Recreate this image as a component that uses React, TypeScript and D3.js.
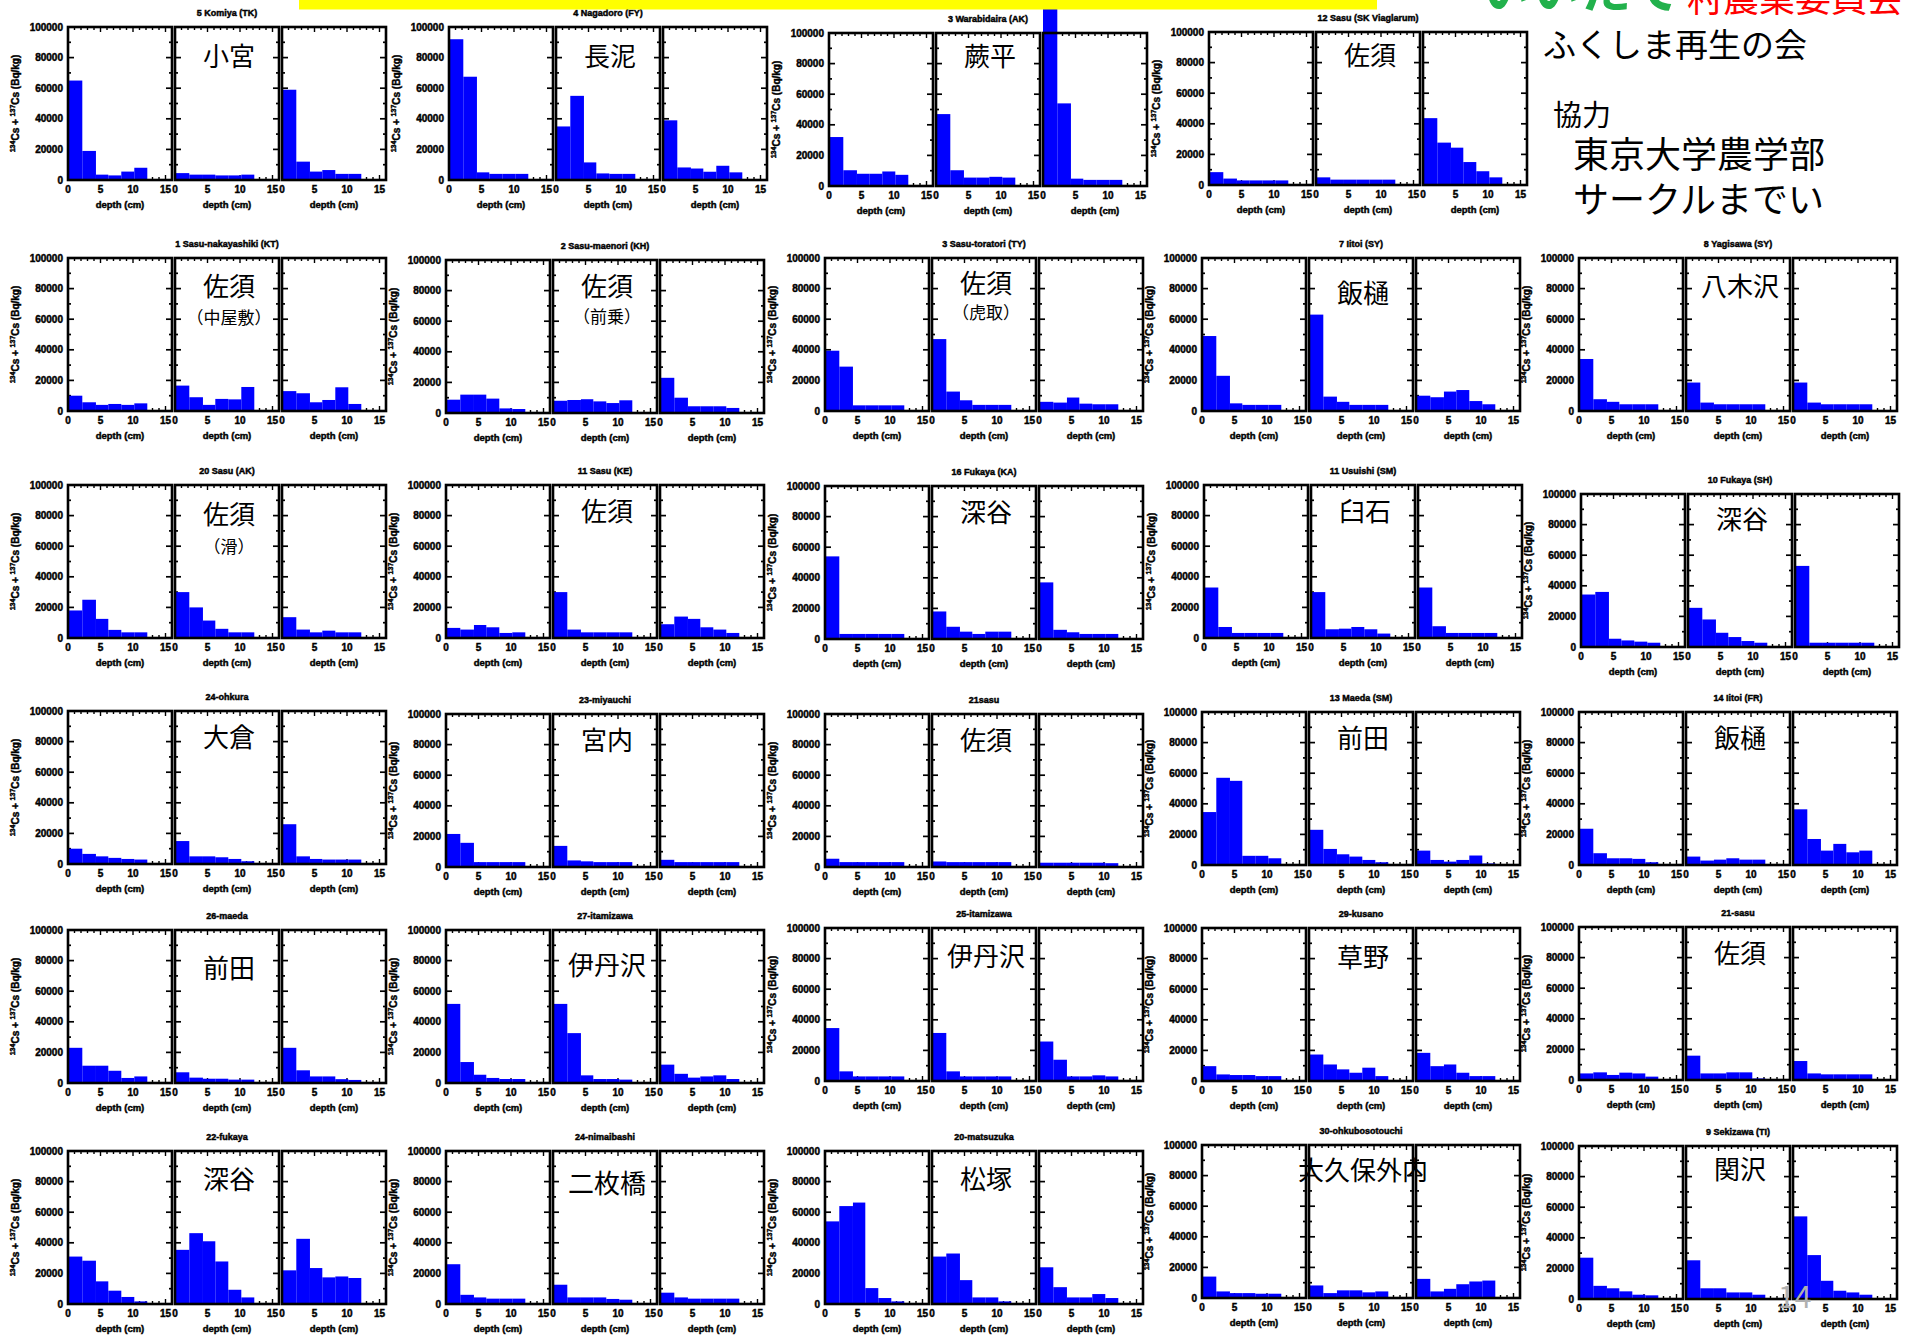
import React from "react";
import * as d3 from "d3";

// ---------- data ----------
const DEPTH_EDGES = [0, 2.2, 4.3, 6.2, 8.2, 10.2, 12.2];
const X_TICKS = [0, 5, 10, 15];
const Y_TICKS = [0, 20000, 40000, 60000, 80000, 100000];

const SITE_TITLES = [
  "5 Komiya (TK)", "4 Nagadoro (FY)", "3 Warabidaira (AK)", "12 Sasu (SK Viaglarum)",
  "1 Sasu-nakayashiki (KT)", "2 Sasu-maenori (KH)", "3 Sasu-toratori (TY)", "7 Iitoi (SY)", "8 Yagisawa (SY)",
  "20 Sasu (AK)", "11 Sasu (KE)", "16 Fukaya (KA)", "11 Usuishi (SM)", "10 Fukaya (SH)",
  "24-ohkura", "23-miyauchi", "21sasu", "13 Maeda (SM)", "14 Iitoi (FR)",
  "26-maeda", "27-itamizawa", "25-itamizawa", "29-kusano", "21-sasu",
  "22-fukaya", "24-nimaibashi", "20-matsuzuka", "30-ohkubosotouchi", "9 Sekizawa (TI)",
];
const SITE_NAMES = [
  "小宮", "長泥", "蕨平", "佐須",
  "佐須", "佐須", "佐須", "飯樋", "八木沢",
  "佐須", "佐須", "深谷", "臼石", "深谷",
  "大倉", "宮内", "佐須", "前田", "飯樋",
  "前田", "伊丹沢", "伊丹沢", "草野", "佐須",
  "深谷", "二枚橋", "松塚", "大久保外内", "関沢",
];
const SITE_SUBNAMES = [
  "", "", "", "",
  "（中屋敷）", "（前乗）", "（虎取）", "", "",
  "（滑）", "", "", "", "",
  "", "", "", "", "",
  "", "", "", "", "",
  "", "", "", "", "",
];

// 134Cs + 137Cs (kBq/kg) per depth layer, three cores per site
const ROW1_VALUES = [
  [[65, 19, 3.5, 3, 5.5, 8], [4.5, 3.5, 3.5, 3, 3, 3.5], [59, 12, 5.5, 6.5, 4, 4]],
  [[92, 67.5, 5, 4, 4, 4], [35, 55, 11.5, 4.3, 4, 4], [39, 8.2, 7.5, 5.4, 9.3, 5]],
  [[32, 10.3, 8, 8, 9.5, 7.3], [47, 10.3, 5.5, 5.5, 6, 5.5], [118, 54, 4.8, 4, 4, 4]],
  [[8.4, 4.2, 3, 3, 3, 3], [5, 3.5, 3.5, 3.5, 3.5, 3.5], [43.7, 27.7, 24.4, 15, 9, 5]],
];
const ROW2_VALUES = [
  [[10, 5.7, 4, 4.6, 4, 5], [16.6, 9, 4, 7.9, 7.6, 15.7], [13, 11.6, 5.7, 7.2, 15.5, 4.6]],
  [[8.7, 12, 12, 9.4, 3, 2.6], [8, 8.5, 9, 7.6, 6.5, 8.3], [23, 10, 4.4, 4.4, 4.4, 3.3]],
  [[39.4, 29, 3.7, 3.7, 3.7, 3.7], [47, 12.7, 7, 4, 4, 4], [6, 5.5, 8.8, 4.8, 4.4, 4.4]],
  [[49, 23, 5, 4, 4, 4], [63, 9.4, 6, 4, 4, 4], [10, 9, 12.7, 13.7, 6.5, 4.4]],
  [[34, 7.7, 6, 4.4, 4.4, 4.4], [18.6, 5.5, 4.4, 4.4, 4.4, 4.4], [18.6, 5.5, 4.4, 4.4, 4.4, 4.4]],
];
const ROW3_VALUES = [
  [[18, 25, 12.5, 5.3, 3.7, 3.7], [30, 20, 11.4, 6, 3.7, 3.7], [13.6, 5.5, 3.7, 4.8, 3.7, 3.7]],
  [[6.6, 5.5, 8.5, 7, 3.3, 3.7], [30, 5.5, 3.7, 3.7, 3.7, 3.7], [9, 14, 12.5, 7, 5.5, 3.3]],
  [[54, 3.3, 3.3, 3.3, 3.3, 3.3], [18, 8, 4.8, 3.3, 4.8, 4.8], [37, 6, 4.4, 3.3, 3.3, 3.3]],
  [[33, 7.2, 3.3, 3.3, 3.3, 3.3], [30, 5.7, 6.1, 7.2, 5.7, 2.9], [33, 7.7, 3.3, 3.3, 3.3, 3.3]],
  [[34.3, 36, 5.4, 4.3, 3.5, 2.8], [25.6, 18, 9.3, 6.5, 3.9, 2.8], [53, 2.8, 2.8, 2.8, 2.8, 2.8]],
];
const ROW4_VALUES = [
  [[10, 6.6, 5, 4, 3.3, 2.9], [15, 5, 5, 4.4, 3.3, 1.8], [26, 5, 3.3, 2.9, 2.9, 2.9]],
  [[21.6, 15.8, 3.2, 3.2, 3.2, 3.2], [13.8, 4.3, 3.7, 3.2, 3.2, 3.2], [4.7, 3.2, 3.2, 3.2, 3.2, 3.2]],
  [[5.4, 3.2, 3.2, 3.2, 3.2, 3.2], [3.6, 3.2, 3.2, 3.2, 3.2, 3.2], [2.8, 2.8, 2.8, 2.8, 2.8, 2.5]],
  [[34.6, 57, 55, 6, 6, 4.4], [23, 10.5, 7, 5.5, 3.3, 1.8], [9.4, 3.3, 2.2, 3.3, 6.2, 1]],
  [[23.7, 7.7, 4.4, 4.4, 4, 1.8], [5.5, 2.9, 3.5, 4.4, 3.5, 3.5], [36.4, 17, 9.4, 13.8, 8.3, 9.4]],
];
const ROW5_VALUES = [
  [[23, 11.3, 11.3, 8, 3.3, 4.3], [7, 3.5, 2.8, 2.8, 2.2, 2.2], [23, 8.3, 4.3, 4.3, 2.5, 2]],
  [[51.7, 13.7, 5.4, 3.3, 2.6, 2.6], [51.7, 32.6, 5, 2.6, 2.6, 2.2], [12, 6, 3.5, 4.3, 5, 2.6]],
  [[34.6, 6.3, 3, 3, 3, 3], [31.4, 6.3, 3, 3, 3, 3], [25.8, 13.9, 3, 3, 3.7, 3]],
  [[9.7, 4.3, 3.9, 3.9, 3.2, 3.2], [17.3, 10.8, 7.6, 5.4, 8.7, 3.2], [18.4, 9.7, 10.8, 5.4, 3.2, 3.2]],
  [[4.3, 5, 3.3, 4.8, 4.3, 2.2], [15.9, 4.3, 4.3, 5, 5, 1], [12.4, 4.3, 3.7, 3.7, 3.7, 3.7]],
];
const ROW6_VALUES = [
  [[31, 28.3, 14.8, 8.7, 4.6, 1.7], [35.4, 46.3, 41, 27.8, 9.3, 4.3], [22, 42.6, 23.5, 17.4, 18, 17]],
  [[26, 6, 4.3, 3.5, 3.5, 3.5], [12.6, 4.3, 4.3, 4.3, 3.3, 2.8], [7.4, 4.3, 3.5, 3.5, 3.5, 3.5]],
  [[54, 64, 66.3, 10.4, 3.9, 1.7], [31, 33, 15.6, 4.3, 4.3, 1.7], [24, 11, 4.3, 4.3, 6.5, 3.9]],
  [[14, 4.3, 3.2, 3.2, 2.8, 2.8], [8.2, 3.2, 5, 5, 3.7, 4.3], [12.5, 4.3, 6, 9, 10.8, 11.4]],
  [[27, 8.6, 7, 5, 2.8, 2.4], [25.3, 7, 7, 4.3, 4.3, 2.8], [54, 28.7, 11.9, 5.4, 4.3, 2.8]],
];
const VALUES = [...ROW1_VALUES, ...ROW2_VALUES, ...ROW3_VALUES, ...ROW4_VALUES, ...ROW5_VALUES, ...ROW6_VALUES];

// ---------- layout ----------
const GROUP_X = [
  68, 449, 829, 1209,
  68, 446, 825, 1202, 1579,
  68, 446, 825, 1204, 1581,
  68, 446, 825, 1202, 1579,
  68, 446, 825, 1202, 1579,
  68, 446, 825, 1202, 1579,
];
const GROUP_TOP = [
  27, 27, 33, 32,
  258, 260, 258, 258, 258,
  485, 485, 486, 485, 494,
  711, 714, 714, 712, 712,
  930, 930, 928, 928, 927,
  1151, 1151, 1151, 1145, 1146,
];
const LABEL_DY = [
  30, 30, 24, 24,
  29, 27, 26, 36, 29,
  30, 27, 27, 27, 26,
  27, 27, 27, 27, 27,
  39, 36, 29, 30, 27,
  29, 33, 29, 26, 24,
];
const SUB_DY = [0, 0, 0, 0, 60, 57, 55, 0, 0, 62];

const PANEL_W = 104;
const PANEL_GAP = 3;
const FRAME_H = 153;
const FONT = "'Liberation Sans', Arial, Helvetica, sans-serif";
const JP = "'Noto Sans CJK JP', 'Noto Sans CJK SC', sans-serif";
const BLUE = "#0000ff";
const HEAVY = { stroke: "#000", strokeWidth: 0.45 };

function Group({ idx }: { idx: number }) {
  const x0 = GROUP_X[idx];
  const top = GROUP_TOP[idx];
  const bottom = top + FRAME_H;
  const values = VALUES[idx];
  const y = d3.scaleLinear().domain([0, 100000]).range([bottom, top]);
  const groupW = 3 * PANEL_W + 2 * PANEL_GAP;
  const cx = x0 + groupW / 2;
  const minorX = d3.range(1, 16);
  const minorY = d3.range(10000, 100000, 10000);

  return (
    <g>
      <text x={cx} y={top - 11} textAnchor="middle" fontFamily={FONT} fontWeight="bold" fontSize={9} {...HEAVY}>
        {SITE_TITLES[idx]}
      </text>
      <text
        transform={`translate(${x0 - 49},${(top + bottom) / 2}) rotate(-90)`}
        textAnchor="middle"
        fontFamily={FONT}
        fontWeight="bold"
        fontSize={10}
        {...HEAVY}
      >
        <tspan fontSize={7} dy={-4}>134</tspan>
        <tspan dy={4}>Cs + </tspan>
        <tspan fontSize={7} dy={-4}>137</tspan>
        <tspan dy={4}>Cs (Bq/kg)</tspan>
      </text>
      {Y_TICKS.map((t) => (
        <text key={t} x={x0 - 5} y={y(t)} dy="0.35em" textAnchor="end" fontFamily={FONT} fontWeight="bold" fontSize={10} {...HEAVY}>
          {t}
        </text>
      ))}
      {values.map((panel, p) => {
        const pl = x0 + p * (PANEL_W + PANEL_GAP);
        const x = d3.scaleLinear().domain([0, 16]).range([pl, pl + PANEL_W]);
        return (
          <g key={p}>
            {minorX.map((t) => {
              const len = t % 5 === 0 ? 5 : 3;
              return (
                <g key={t} stroke="#000" strokeWidth={1.4}>
                  <line x1={x(t)} x2={x(t)} y1={top} y2={top + len} />
                  <line x1={x(t)} x2={x(t)} y1={bottom} y2={bottom - len} />
                </g>
              );
            })}
            {minorY.map((v) => {
              const len = v % 20000 === 0 ? 6 : 3;
              return (
                <g key={v} stroke="#000" strokeWidth={1.7}>
                  <line x1={pl} x2={pl + len} y1={y(v)} y2={y(v)} />
                  <line x1={pl + PANEL_W} x2={pl + PANEL_W - len} y1={y(v)} y2={y(v)} />
                </g>
              );
            })}
            {panel.map((v, i) => {
              const xa = x(DEPTH_EDGES[i]);
              const xb = x(DEPTH_EDGES[i + 1]);
              const yv = y(v * 1000);
              return <rect key={i} x={xa} y={yv} width={xb - xa} height={bottom - yv} fill={BLUE} />;
            })}
            <rect x={pl} y={top} width={PANEL_W} height={FRAME_H} fill="none" stroke="#000" strokeWidth={2.6} />
            {X_TICKS.map((t) => (
              <text key={t} x={x(t)} y={bottom + 13} textAnchor="middle" fontFamily={FONT} fontWeight="bold" fontSize={10} {...HEAVY}>
                {t}
              </text>
            ))}
            <text x={pl + PANEL_W / 2} y={bottom + 28} textAnchor="middle" fontFamily={FONT} fontWeight="bold" fontSize={9.5} {...HEAVY}>
              depth (cm)
            </text>
          </g>
        );
      })}
      <text x={cx + 2} y={top + LABEL_DY[idx] + 9} textAnchor="middle" fontFamily={JP} fontSize={26} fill="#000">
        {SITE_NAMES[idx]}
      </text>
      {SITE_SUBNAMES[idx] ? (
        <text x={cx + 2} y={top + (SUB_DY[idx] || 58) + 6} textAnchor="middle" fontFamily={JP} fontSize={17} fill="#000">
          {SITE_SUBNAMES[idx]}
        </text>
      ) : null}
    </g>
  );
}

export default function App() {
  return (
    <svg
      width={1907}
      height={1335}
      viewBox="0 0 1907 1335"
      style={{ position: "absolute", left: 0, top: 0, background: "#fff" }}
    >
      <rect x={0} y={0} width={1907} height={1335} fill="#fff" />
      {VALUES.map((_, i) => (
        <Group key={i} idx={i} />
      ))}
      <rect x={299} y={0} width={1078} height={9.5} fill="#ffff00" />
      <text x={1481} y={8} fontFamily={JP} fontWeight="bold" fontSize={50} fill="#22b14c">
        いいたて
      </text>
      <text x={1687} y={12} fontFamily={JP} fontSize={36} fill="#ff0000">
        村農業委員会
      </text>
      <text x={1543} y={57} fontFamily={JP} fontSize={33} fill="#000">
        ふくしま再生の会
      </text>
      <text x={1553} y={126} fontFamily={JP} fontSize={29} fill="#000">
        協力
      </text>
      <text x={1573} y={168} fontFamily={JP} fontSize={36} fill="#000">
        東京大学農学部
      </text>
      <text x={1573} y={213} fontFamily={JP} fontSize={36} fill="#000">
        サークルまでい
      </text>
      <text x={1778} y={1308} fontFamily={JP} fontSize={30} fill="#b0b0b0">
        14
      </text>
    </svg>
  );
}
